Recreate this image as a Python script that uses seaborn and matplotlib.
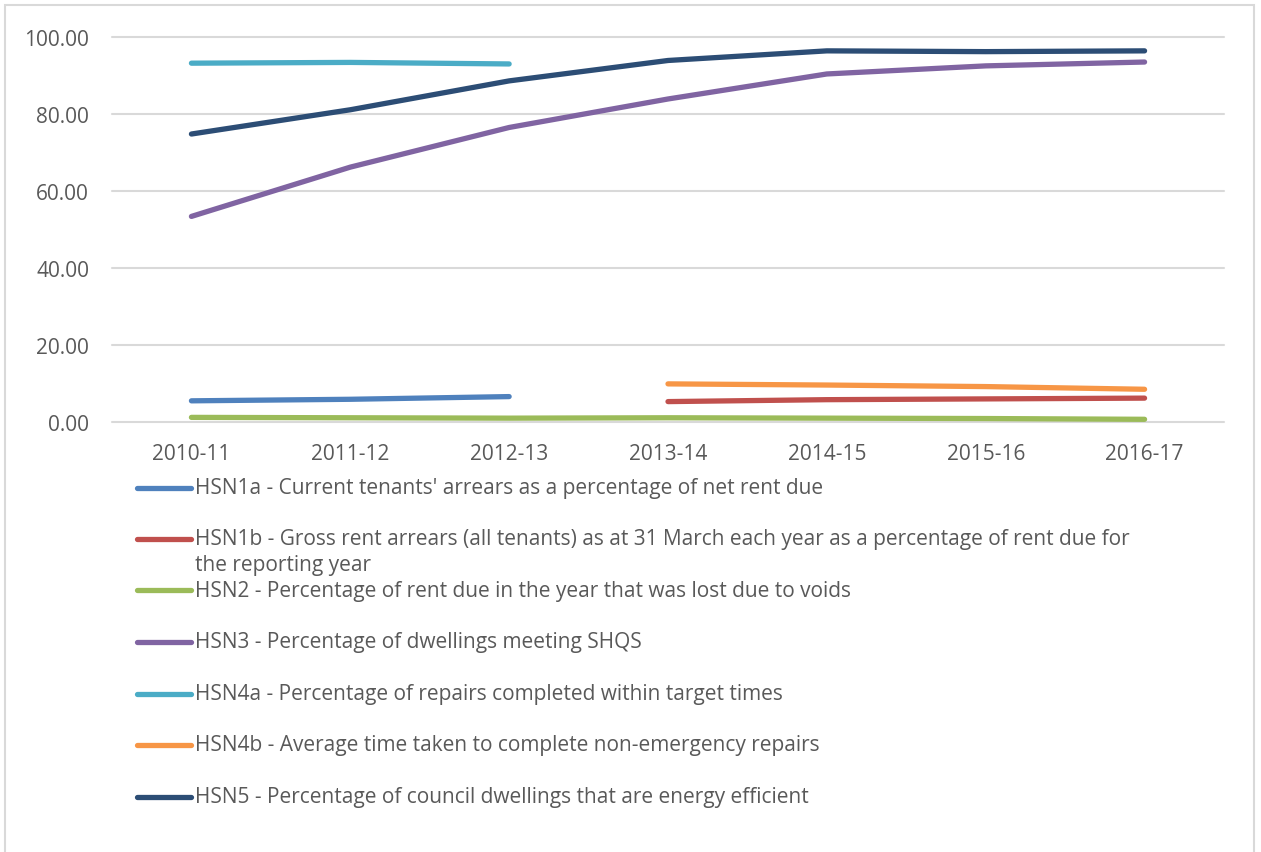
import numpy as np
import pandas as pd
import matplotlib
matplotlib.use("Agg")
import matplotlib.pyplot as plt
from matplotlib.lines import Line2D
from matplotlib.patches import Rectangle
import seaborn as sns

years = ["2010-11", "2011-12", "2012-13", "2013-14", "2014-15", "2015-16", "2016-17"]
hsn1a = [5.5, 5.9, 6.6, None, None, None, None]
hsn1b = [None, None, None, 5.3, 5.8, 6.0, 6.2]
hsn2 = [1.2, 1.1, 1.0, 1.1, 1.0, 0.9, 0.7]
hsn3 = [53.4, 66.2, 76.5, 83.9, 90.4, 92.5, 93.5]
hsn4a = [93.2, 93.4, 93.0, None, None, None, None]
hsn4b = [None, None, None, 9.9, 9.6, 9.2, 8.5]
hsn5 = [74.8, 81.1, 88.6, 93.9, 96.4, 96.2, 96.4]

labels = [
    "HSN1a - Current tenants' arrears as a percentage of net rent due",
    "HSN1b - Gross rent arrears (all tenants) as at 31 March each year as a percentage of rent due for\nthe reporting year",
    "HSN2 - Percentage of rent due in the year that was lost due to voids",
    "HSN3 - Percentage of dwellings meeting SHQS",
    "HSN4a - Percentage of repairs completed within target times",
    "HSN4b - Average time taken to complete non-emergency repairs",
    "HSN5 - Percentage of council dwellings that are energy efficient",
]
series = [hsn1a, hsn1b, hsn2, hsn3, hsn4a, hsn4b, hsn5]
colors = ["#4F81BD", "#C0504D", "#9BBB59", "#8064A2", "#4BACC6", "#F79646", "#2C4D75"]

rows = []
for lab, vals in zip(labels, series):
    for i, v in enumerate(vals):
        if v is not None:
            rows.append({"x": i, "value": v, "series": lab})
df = pd.DataFrame(rows)

sns.set_theme(style="white")
plt.rcParams["font.family"] = ["Open Sans", "DejaVu Sans"]
txt = "#595959"
fs = 15

W, H = 1261, 853
fig = plt.figure(figsize=(W / 100, H / 100), dpi=100)
fig.patch.set_facecolor("white")
ax = fig.add_axes([112 / W, (H - 423) / H, (1224 - 112) / W, (423 - 38) / H])

sns.lineplot(data=df, x="x", y="value", hue="series", hue_order=labels,
             palette=colors, linewidth=3.8, legend=False, ax=ax,
             solid_capstyle="round", estimator=None, sort=True)

ax.set_xlim(-0.5, len(years) - 0.5)
ax.set_ylim(0, 100)
ax.set_yticks([0, 20, 40, 60, 80, 100])
ax.set_yticklabels([f"{v:.2f}" for v in [0, 20, 40, 60, 80, 100]])
ax.set_xticks(range(len(years)))
ax.set_xticklabels(years)
ax.tick_params(axis="y", length=0, pad=16.5, labelsize=fs, labelcolor=txt)
ax.tick_params(axis="x", length=0, pad=15, labelsize=fs, labelcolor=txt)
ax.set_xlabel("")
ax.set_ylabel("")
for s in ax.spines.values():
    s.set_visible(False)
ax.yaxis.grid(True, color="#D9D9D9", linewidth=1.5)
ax.set_axisbelow(True)
for gl in ax.get_ygridlines():
    gl.set_clip_on(False)

# legend (manual)
leg_y = [489, 540, 591, 643, 695, 746, 798]
for lab, col, yy in zip(labels, colors, leg_y):
    yf = (H - yy) / H
    fig.add_artist(Line2D([137 / W, 191 / W], [yf, yf], color=col, linewidth=3.8,
                          solid_capstyle="round", transform=fig.transFigure))
    if "\n" in lab:
        l1, l2 = lab.split("\n")
        fig.text(195 / W, yf, l1, color=txt, fontsize=fs, va="center", ha="left")
        fig.text(195 / W, (H - (yy + 26)) / H, l2, color=txt, fontsize=fs, va="center", ha="left")
    else:
        fig.text(195 / W, yf, lab, color=txt, fontsize=fs, va="center", ha="left")

# outer border
fig.add_artist(Rectangle((5 / W, -0.05), (1254 - 5) / W, (H - 6) / H + 0.05,
                         transform=fig.transFigure, fill=False, edgecolor="#D9D9D9",
                         linewidth=1.5))

fig.savefig("out.png", dpi=100)
